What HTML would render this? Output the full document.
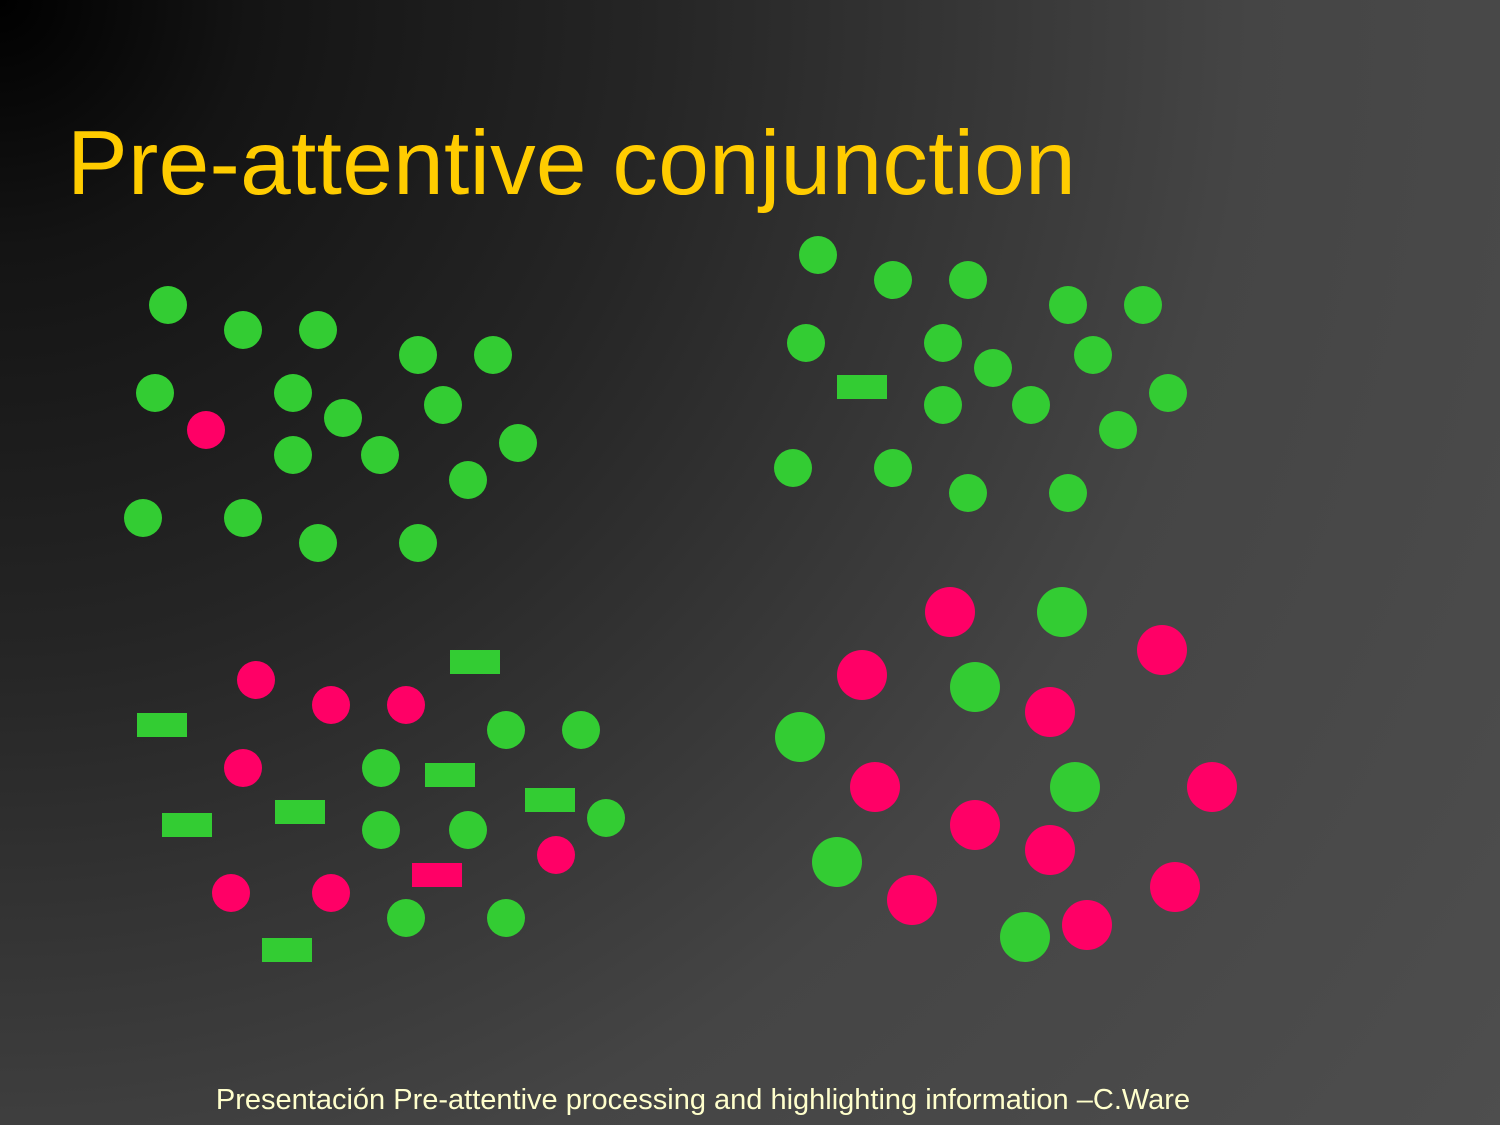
<!DOCTYPE html>
<html><head><meta charset="utf-8"><style>
html,body{margin:0;padding:0;}
body{width:1500px;height:1125px;overflow:hidden;position:relative;font-family:"Liberation Sans",Arial,sans-serif;
background:radial-gradient(circle at 0 0,#000 0px,#141414 250px,#252525 650px,#353535 950px,#454545 1250px,#4e4e4e 1900px);}
#title{position:absolute;left:67px;top:112px;font-size:91px;color:#ffcc00;white-space:nowrap;margin:0;font-weight:normal;letter-spacing:0.3px;}
#footer{position:absolute;left:0;width:1406px;text-align:center;top:1084px;font-size:29px;color:#ffffcc;white-space:nowrap;}
svg{position:absolute;left:0;top:0;}
</style></head><body>
<h1 id="title">Pre-attentive conjunction</h1>
<svg id="plot" width="1500" height="1125"></svg>
<div id="footer">Presentación Pre-attentive processing and highlighting information –C.Ware</div>
<script>
const GREEN="#33cc33", RED="#ff0066";
const tlGreenCircles=[[168,305],[243,330],[318,330],[418,355],[493,355],[155,393],[293,393],[343,418],[443,405],[293,455],[380,455],[518,443],[468,480],[143,518],[243,518],[318,543],[418,543]];
const tlRedCircles=[[206,430]];
const trGreenCircles=[[818,255],[893,280],[968,280],[1068,305],[1143,305],[806,343],[943,343],[993,368],[1093,355],[1168,393],[943,405],[1031,405],[1118,430],[793,468],[893,468],[968,493],[1068,493]];
const trGreenRects=[[862,387]];
const blRedCircles=[[256,680],[331,705],[406,705],[243,768],[231,893],[331,893],[556,855]];
const blGreenCircles=[[506,730],[581,730],[381,768],[381,830],[468,830],[606,818],[406,918],[506,918]];
const blGreenRects=[[475,662],[162,725],[450,775],[550,800],[187,825],[300,812],[287,950]];
const blRedRects=[[437,875]];
const brRedCircles=[[950,612],[862,675],[1162,650],[1050,712],[875,787],[1212,787],[975,825],[1050,850],[912,900],[1175,887],[1087,925]];
const brGreenCircles=[[1062,612],[975,687],[800,737],[1075,787],[837,862],[1025,937]];

const svg=document.getElementById('plot');
const NS="http://www.w3.org/2000/svg";
function circles(arr,r,color,name){
  arr.forEach(p=>{
    const c=document.createElementNS(NS,'circle');
    c.setAttribute('cx',p[0]);c.setAttribute('cy',p[1]);c.setAttribute('r',r);c.setAttribute('fill',color);
    
    
    svg.appendChild(c);
  });
}
function rects(arr,color,name){
  arr.forEach(p=>{
    const c=document.createElementNS(NS,'rect');
    c.setAttribute('x',p[0]-25);c.setAttribute('y',p[1]-12);c.setAttribute('width',50);c.setAttribute('height',24);c.setAttribute('fill',color);
    
    
    svg.appendChild(c);
  });
}
circles(tlGreenCircles,19,GREEN,'green-circle');
circles(tlRedCircles,19,RED,'red-circle-target');
circles(trGreenCircles,19,GREEN,'green-circle');
rects(trGreenRects,GREEN,'green-rect-target');
circles(blRedCircles,19,RED,'red-circle');
circles(blGreenCircles,19,GREEN,'green-circle');
rects(blGreenRects,GREEN,'green-rect');
rects(blRedRects,RED,'red-rect-target');
circles(brRedCircles,25,RED,'red-large-circle');
circles(brGreenCircles,25,GREEN,'green-large-circle');
</script>
</body></html>
